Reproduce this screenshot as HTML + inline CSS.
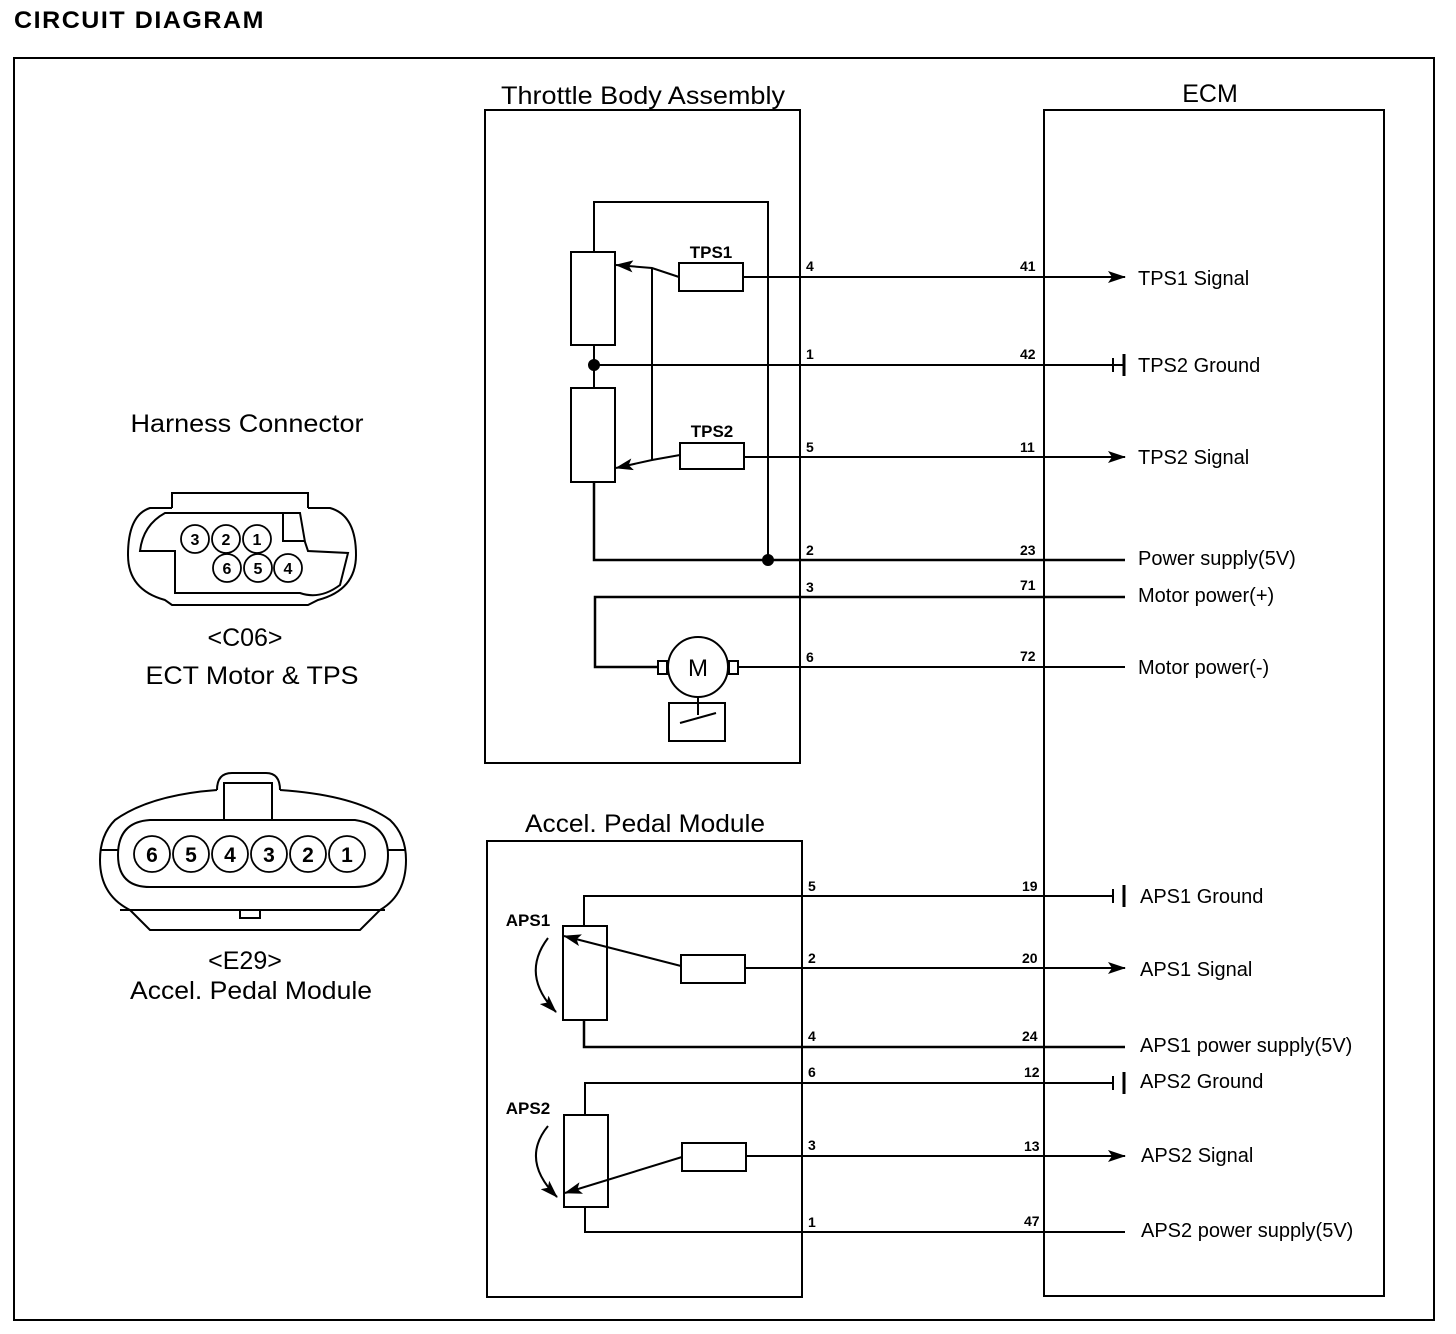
<!DOCTYPE html>
<html><head><meta charset="utf-8"><style>
body{margin:0;background:#fff}
svg{display:block}
text{font-family:"Liberation Sans",Arial,sans-serif;fill:#000}
</style></head><body>
<svg width="1456" height="1334" viewBox="0 0 1456 1334" xmlns="http://www.w3.org/2000/svg">
<defs>
<marker id="ar" markerWidth="18" markerHeight="12" refX="17" refY="6" orient="auto" markerUnits="userSpaceOnUse">
<path d="M0,0 L18,6 L0,12 L4,6 Z" fill="#000"/></marker>
</defs>
<g fill="none" stroke="#000" stroke-width="2">
<text x="14" y="28" font-size="24" font-weight="bold" stroke="none" letter-spacing="1.5" textLength="251" lengthAdjust="spacingAndGlyphs">CIRCUIT DIAGRAM</text>
<rect x="14" y="58" width="1420" height="1262"/>
<rect x="485" y="110" width="315" height="653"/>
<rect x="1044" y="110" width="340" height="1186"/>
<rect x="487" y="841" width="315" height="456"/>

<polyline points="594,252 594,202 768,202 768,560"/>
<rect x="571" y="252" width="44" height="93"/>
<rect x="571" y="388" width="44" height="94"/>
<line x1="594" y1="345" x2="594" y2="388"/>
<line x1="594" y1="365" x2="1125" y2="365"/>
<circle cx="594" cy="365" r="5" fill="#000"/>
<polyline points="594,482 594,560 1125,560" stroke-width="2.5"/>
<circle cx="768" cy="560" r="5" fill="#000"/>
<rect x="679" y="263" width="64" height="28"/>
<line x1="743" y1="277" x2="1125" y2="277" marker-end="url(#ar)"/>
<polyline points="679,277 652,268 616,265" marker-end="url(#ar)"/>
<line x1="652" y1="268" x2="652" y2="460"/>
<rect x="680" y="443" width="64" height="26"/>
<line x1="744" y1="457" x2="1125" y2="457" marker-end="url(#ar)"/>
<polyline points="680,455 652,460 616,468" marker-end="url(#ar)"/>
<polyline points="1125,597 595,597 595,667 657,667" stroke-width="2.5"/>
<circle cx="698" cy="667" r="30"/>
<rect x="658" y="661" width="9" height="13"/>
<rect x="729" y="661" width="9" height="13"/>
<line x1="738" y1="667" x2="1125" y2="667"/>
<line x1="698" y1="697" x2="698" y2="715"/>
<rect x="669" y="703" width="56" height="38"/>
<line x1="680" y1="723" x2="716" y2="713"/>

<line x1="1113" y1="358" x2="1113" y2="372"/><line x1="1124" y1="354" x2="1124" y2="376" stroke-width="3"/>
<line x1="1113" y1="889" x2="1113" y2="903"/><line x1="1124" y1="885" x2="1124" y2="907" stroke-width="3"/>
<line x1="1113" y1="1076" x2="1113" y2="1090"/><line x1="1124" y1="1072" x2="1124" y2="1094" stroke-width="3"/>

<polyline points="584,926 584,896 1113,896"/>
<rect x="563" y="926" width="44" height="94"/>
<polyline points="584,1020 584,1047 1125,1047" stroke-width="2.5"/>
<rect x="681" y="955" width="64" height="28"/>
<line x1="745" y1="968" x2="1125" y2="968" marker-end="url(#ar)"/>
<line x1="681" y1="966" x2="564" y2="936" marker-end="url(#ar)"/>
<path d="M548,938 Q520,975 556,1012" marker-end="url(#ar)"/>
<polyline points="585,1115 585,1083 1113,1083"/>
<rect x="564" y="1115" width="44" height="92"/>
<polyline points="585,1207 585,1232 1125,1232"/>
<rect x="682" y="1143" width="64" height="28"/>
<line x1="746" y1="1156" x2="1125" y2="1156" marker-end="url(#ar)"/>
<line x1="682" y1="1157" x2="565" y2="1193" marker-end="url(#ar)"/>
<path d="M548,1126 Q520,1160 557,1197" marker-end="url(#ar)"/>

<path d="M172,508 L172,493 L308,493 L308,508"/>
<path d="M172,508 L150,508 Q128,515 128,555 Q128,590 165,600 L172,605 L308,605 L318,600 Q356,590 356,555 Q356,515 330,508 L308,508"/>
<path d="M140,551 Q143,525 165,513 L300,513 L305,542 L308,551 L348,553 L340,585 Q320,600 300,593 L175,593 L175,551 Z"/>
<path d="M283,513 L283,541 L305,541"/>
<g stroke-width="1.8">
<circle cx="195" cy="539" r="14"/><circle cx="226" cy="539" r="14"/><circle cx="257" cy="539" r="14"/>
<circle cx="227" cy="568" r="14"/><circle cx="258" cy="568" r="14"/><circle cx="288" cy="568" r="14"/>
</g>
<path d="M217,790 Q217,773 232,773 L266,773 Q280,773 280,790"/>
<rect x="224" y="783" width="48" height="37"/>
<path d="M217,790 Q150,795 115,820 Q100,835 100,860 Q100,895 130,910 L150,930 L360,930 L380,910 Q406,895 406,860 Q406,835 390,820 Q355,795 280,790"/>
<path d="M150,820 L355,820 Q388,825 388,855 Q388,887 355,887 L150,887 Q118,887 118,855 Q118,822 150,820 Z"/>
<line x1="100" y1="850" x2="118" y2="850"/><line x1="388" y1="850" x2="406" y2="850"/>
<path d="M120,910 L385,910"/>
<path d="M240,910 L240,918 L260,918 L260,910"/>
<g stroke-width="1.8">
<circle cx="152" cy="854" r="18"/><circle cx="191" cy="854" r="18"/><circle cx="230" cy="854" r="18"/>
<circle cx="269" cy="854" r="18"/><circle cx="308" cy="854" r="18"/><circle cx="347" cy="854" r="18"/>
</g>
</g>

<g font-size="16" font-weight="bold">
<text x="195" y="545" text-anchor="middle">3</text><text x="226" y="545" text-anchor="middle">2</text><text x="257" y="545" text-anchor="middle">1</text>
<text x="227" y="574" text-anchor="middle">6</text><text x="258" y="574" text-anchor="middle">5</text><text x="288" y="574" text-anchor="middle">4</text>
</g>
<g font-size="21" font-weight="bold">
<text x="152" y="862" text-anchor="middle">6</text><text x="191" y="862" text-anchor="middle">5</text><text x="230" y="862" text-anchor="middle">4</text>
<text x="269" y="862" text-anchor="middle">3</text><text x="308" y="862" text-anchor="middle">2</text><text x="347" y="862" text-anchor="middle">1</text>
</g>

<g font-size="25" text-anchor="middle">
<text x="643" y="104" textLength="284" lengthAdjust="spacingAndGlyphs">Throttle Body Assembly</text>
<text x="1210" y="102">ECM</text>
<text x="645" y="832" textLength="240" lengthAdjust="spacingAndGlyphs">Accel. Pedal Module</text>
<text x="247" y="432" textLength="233" lengthAdjust="spacingAndGlyphs">Harness Connector</text>
<text x="245" y="646">&lt;C06&gt;</text>
<text x="252" y="684" textLength="213" lengthAdjust="spacingAndGlyphs">ECT Motor &amp; TPS</text>
<text x="245" y="969">&lt;E29&gt;</text>
<text x="251" y="999" textLength="242" lengthAdjust="spacingAndGlyphs">Accel. Pedal Module</text>
</g>

<g font-size="17" text-anchor="middle" font-weight="bold">
<text x="711" y="258">TPS1</text>
<text x="712" y="437">TPS2</text>
<text x="528" y="926">APS1</text>
<text x="528" y="1114">APS2</text>
</g>
<text x="698" y="676" font-size="24" text-anchor="middle">M</text>

<g font-size="14" font-weight="bold">
<text x="806" y="271">4</text><text x="1020" y="271">41</text>
<text x="806" y="359">1</text><text x="1020" y="359">42</text>
<text x="806" y="452">5</text><text x="1020" y="452">11</text>
<text x="806" y="555">2</text><text x="1020" y="555">23</text>
<text x="806" y="592">3</text><text x="1020" y="590">71</text>
<text x="806" y="662">6</text><text x="1020" y="661">72</text>
<text x="808" y="891">5</text><text x="1022" y="891">19</text>
<text x="808" y="963">2</text><text x="1022" y="963">20</text>
<text x="808" y="1041">4</text><text x="1022" y="1041">24</text>
<text x="808" y="1077">6</text><text x="1024" y="1077">12</text>
<text x="808" y="1150">3</text><text x="1024" y="1151">13</text>
<text x="808" y="1227">1</text><text x="1024" y="1226">47</text>
</g>

<g font-size="20">
<text x="1138" y="285">TPS1 Signal</text>
<text x="1138" y="372">TPS2 Ground</text>
<text x="1138" y="464">TPS2 Signal</text>
<text x="1138" y="565">Power supply(5V)</text>
<text x="1138" y="602">Motor power(+)</text>
<text x="1138" y="674">Motor power(-)</text>
<text x="1140" y="903">APS1 Ground</text>
<text x="1140" y="976">APS1 Signal</text>
<text x="1140" y="1052">APS1 power supply(5V)</text>
<text x="1140" y="1088">APS2 Ground</text>
<text x="1141" y="1162">APS2 Signal</text>
<text x="1141" y="1237">APS2 power supply(5V)</text>
</g>
</svg>
</body></html>
